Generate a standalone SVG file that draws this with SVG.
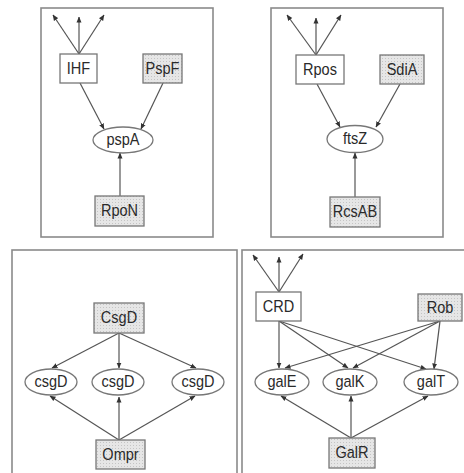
<svg xmlns="http://www.w3.org/2000/svg" width="464" height="473" viewBox="0 0 464 473">
<defs>
<pattern id="dots" width="3" height="3" patternUnits="userSpaceOnUse">
<rect width="3" height="3" fill="#e6e6e6"/>
<rect x="1" y="1" width="1" height="1" fill="#c4c4c4"/>
</pattern>
<marker id="arr" markerWidth="6" markerHeight="6" refX="5.5" refY="3" orient="auto" markerUnits="userSpaceOnUse">
<path d="M0,0.5 L6,3 L0,5.5 z" fill="#333"/>
</marker>
<style>
.panel{fill:#fff;stroke:#8a8a8a;stroke-width:1.6}
.box{fill:#fff;stroke:#777;stroke-width:1.3}
.sh{fill:url(#dots);stroke:#777;stroke-width:1.3}
.ell{fill:#fff;stroke:#777;stroke-width:1.3}
.lbl{font-family:"Liberation Sans",Arial,sans-serif;font-size:16.5px;fill:#2a2a2a;text-anchor:middle}
.e{stroke:#555;stroke-width:1.2;fill:none;marker-end:url(#arr)}
</style>
</defs>
<rect width="464" height="473" fill="#fff"/>
<g id="panels">
<rect class="panel" x="41" y="8" width="172" height="229"/>
<rect class="panel" x="271" y="8" width="172" height="229"/>
<rect class="panel" x="12" y="250" width="225" height="240"/>
<rect class="panel" x="242" y="250" width="240" height="240"/>
</g>
<g id="connectors">
<line class="e" x1="79" y1="54" x2="53" y2="15"/>
<line class="e" x1="79" y1="54" x2="79" y2="17"/>
<line class="e" x1="79" y1="54" x2="104" y2="15"/>
<line class="e" x1="80" y1="83" x2="104" y2="129"/>
<line class="e" x1="163" y1="83" x2="141" y2="129"/>
<line class="e" x1="120" y1="196" x2="120" y2="153"/>
<line class="e" x1="316" y1="55" x2="287" y2="15"/>
<line class="e" x1="316" y1="55" x2="316" y2="18"/>
<line class="e" x1="316" y1="55" x2="341" y2="15"/>
<line class="e" x1="317" y1="84" x2="340" y2="127"/>
<line class="e" x1="400" y1="84" x2="376" y2="127"/>
<line class="e" x1="355" y1="197" x2="355" y2="153"/>
<line class="e" x1="119" y1="333" x2="52" y2="368"/>
<line class="e" x1="119" y1="333" x2="119" y2="368"/>
<line class="e" x1="119" y1="333" x2="196" y2="368"/>
<line class="e" x1="119" y1="440" x2="50" y2="396"/>
<line class="e" x1="119" y1="440" x2="119" y2="397"/>
<line class="e" x1="119" y1="440" x2="195" y2="396"/>
<line class="e" x1="279" y1="292" x2="253" y2="255"/>
<line class="e" x1="279" y1="292" x2="279" y2="257"/>
<line class="e" x1="279" y1="292" x2="303" y2="254"/>
<line class="e" x1="279" y1="321" x2="279" y2="368"/>
<line class="e" x1="279" y1="321" x2="348" y2="368"/>
<line class="e" x1="279" y1="321" x2="426" y2="369"/>
<line class="e" x1="440" y1="321" x2="285" y2="368"/>
<line class="e" x1="440" y1="321" x2="353" y2="368"/>
<line class="e" x1="440" y1="321" x2="434" y2="369"/>
<line class="e" x1="351" y1="438" x2="281" y2="396"/>
<line class="e" x1="351" y1="438" x2="351" y2="396"/>
<line class="e" x1="351" y1="438" x2="428" y2="396"/>
</g>
<g id="IHF"><rect class="box" x="60" y="54" width="37" height="29"/><text class="lbl" transform="matrix(0.88,0,0,1,9.42,0)" x="78.5" y="74.5">IHF</text></g>
<g id="PspF"><rect class="sh" x="143" y="54" width="39" height="29"/><text class="lbl" transform="matrix(0.88,0,0,1,19.5,0)" x="162.5" y="74.5">PspF</text></g>
<g id="pspA"><ellipse class="ell" cx="123" cy="140" rx="30" ry="13"/><text class="lbl" transform="matrix(0.88,0,0,1,14.76,0)" x="123" y="145.5">pspA</text></g>
<g id="RpoN"><rect class="sh" x="95" y="196" width="49" height="30"/><text class="lbl" transform="matrix(0.88,0,0,1,14.34,0)" x="119.5" y="216.5">RpoN</text></g>
<g id="Rpos"><rect class="box" x="296" y="55" width="48" height="29"/><text class="lbl" transform="matrix(0.88,0,0,1,38.4,0)" x="320" y="75.5">Rpos</text></g>
<g id="SdiA"><rect class="sh" x="380" y="55" width="44" height="29"/><text class="lbl" transform="matrix(0.88,0,0,1,48.24,0)" x="402" y="75.5">SdiA</text></g>
<g id="ftsZ"><ellipse class="ell" cx="355" cy="139" rx="28" ry="13.5"/><text class="lbl" transform="matrix(0.88,0,0,1,42.6,0)" x="355" y="144.5">ftsZ</text></g>
<g id="RcsAB"><rect class="sh" x="330" y="197" width="50" height="30"/><text class="lbl" transform="matrix(0.88,0,0,1,42.6,0)" x="355" y="217.5">RcsAB</text></g>
<g id="CsgD"><rect class="sh" x="94" y="303" width="50" height="30"/><text class="lbl" transform="matrix(0.88,0,0,1,14.28,0)" x="119" y="323.5">CsgD</text></g>
<g id="csgD1"><ellipse class="ell" cx="51" cy="382" rx="26" ry="13"/><text class="lbl" transform="matrix(0.88,0,0,1,6.12,0)" x="51" y="387.5">csgD</text></g>
<g id="csgD2"><ellipse class="ell" cx="118" cy="382" rx="26" ry="13"/><text class="lbl" transform="matrix(0.88,0,0,1,14.16,0)" x="118" y="387.5">csgD</text></g>
<g id="csgD3"><ellipse class="ell" cx="198" cy="382" rx="26" ry="13"/><text class="lbl" transform="matrix(0.88,0,0,1,23.76,0)" x="198" y="387.5">csgD</text></g>
<g id="Ompr"><rect class="sh" x="96" y="440" width="49" height="29"/><text class="lbl" transform="matrix(0.88,0,0,1,14.46,0)" x="120.5" y="460.5">Ompr</text></g>
<g id="CRD"><rect class="box" x="256" y="292" width="45" height="29"/><text class="lbl" transform="matrix(0.88,0,0,1,33.42,0)" x="278.5" y="312.5">CRD</text></g>
<g id="Rob"><rect class="sh" x="418" y="294" width="44" height="27"/><text class="lbl" transform="matrix(0.88,0,0,1,52.8,0)" x="440" y="313.5">Rob</text></g>
<g id="galE"><ellipse class="ell" cx="282" cy="382" rx="27" ry="13"/><text class="lbl" transform="matrix(0.88,0,0,1,33.84,0)" x="282" y="387.5">galE</text></g>
<g id="galK"><ellipse class="ell" cx="350" cy="382" rx="27" ry="13"/><text class="lbl" transform="matrix(0.88,0,0,1,42,0)" x="350" y="387.5">galK</text></g>
<g id="galT"><ellipse class="ell" cx="431" cy="382" rx="27" ry="13"/><text class="lbl" transform="matrix(0.88,0,0,1,51.72,0)" x="431" y="387.5">galT</text></g>
<g id="GalR"><rect class="sh" x="329" y="438" width="46" height="30"/><text class="lbl" transform="matrix(0.88,0,0,1,42.24,0)" x="352" y="458.5">GalR</text></g>
</svg>
